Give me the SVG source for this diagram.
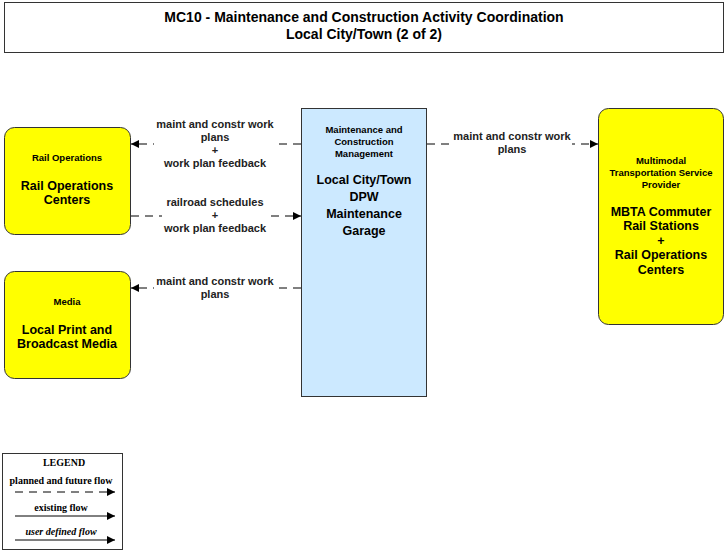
<svg xmlns="http://www.w3.org/2000/svg" width="725" height="552" viewBox="0 0 725 552">
<defs>
<marker id="arr" viewBox="0 0 10 10" refX="10" refY="5" markerWidth="10" markerHeight="8" markerUnits="userSpaceOnUse" orient="auto"><path d="M0,0 L10,5 L0,10 z" fill="#000"/></marker>
<style>
text{font-family:"Liberation Sans",Arial,sans-serif;font-weight:bold;fill:#000;text-anchor:middle}
.t{font-size:14px}
.h{font-size:9.5px}
.m{font-size:12.5px}
.l{font-size:11px;fill:#222}
.node{fill:#FFFF00;stroke:#333;stroke-width:1}
.dash{stroke:#000;stroke-width:1;fill:none;stroke-dasharray:8,6}
.solid{stroke:#000;stroke-width:1;fill:none}
.lg{font-family:"Liberation Serif","Times New Roman",serif;font-size:10px}
</style>
</defs>
<rect width="725" height="552" fill="#fff"/>
<g id="title">
<rect x="4.5" y="2.5" width="719" height="50" fill="#fff" stroke="#333"/>
<text class="t" x="364" y="22">MC10 - Maintenance and Construction Activity Coordination</text>
<text class="t" x="364" y="39">Local City/Town (2 of 2)</text>
</g>
<g id="connectors">
<line class="dash" x1="301" y1="144" x2="131" y2="144" marker-end="url(#arr)"/>
<line class="dash" x1="131" y1="216" x2="301" y2="216" marker-end="url(#arr)"/>
<line class="dash" x1="301" y1="288" x2="131" y2="288" marker-end="url(#arr)"/>
<line class="dash" x1="427" y1="144" x2="598" y2="144" marker-end="url(#arr)"/>
<rect x="154" y="116" width="122" height="52" fill="#fff"/>
<rect x="162" y="195" width="106" height="40" fill="#fff"/>
<rect x="154" y="274" width="122" height="26" fill="#fff"/>
<rect x="452" y="130" width="120" height="26" fill="#fff"/>
<text class="l" x="215" y="128">maint and constr work</text>
<text class="l" x="215" y="141">plans</text>
<text class="l" x="215" y="154">+</text>
<text class="l" x="215" y="167">work plan feedback</text>
<text class="l" x="215" y="206">railroad schedules</text>
<text class="l" x="215" y="219">+</text>
<text class="l" x="215" y="232">work plan feedback</text>
<text class="l" x="215" y="285">maint and constr work</text>
<text class="l" x="215" y="298">plans</text>
<text class="l" x="512" y="140">maint and constr work</text>
<text class="l" x="512" y="153">plans</text>
</g>
<g id="dpw">
<rect x="301.5" y="108.5" width="125" height="288" fill="#CCE9FF" stroke="#333"/>
<text class="h" x="364" y="133">Maintenance and</text>
<text class="h" x="364" y="145">Construction</text>
<text class="h" x="364" y="157">Management</text>
<text class="m" x="364" y="184">Local City/Town</text>
<text class="m" x="364" y="201">DPW</text>
<text class="m" x="364" y="218">Maintenance</text>
<text class="m" x="364" y="235">Garage</text>
</g>
<g id="railops">
<rect class="node" x="4.5" y="127.5" width="126" height="107" rx="10"/>
<text class="h" x="67" y="161">Rail Operations</text>
<text class="m" x="67" y="190">Rail Operations</text>
<text class="m" x="67" y="204">Centers</text>
</g>
<g id="media">
<rect class="node" x="4.5" y="271.5" width="126" height="107" rx="10"/>
<text class="h" x="67" y="305">Media</text>
<text class="m" x="67" y="334">Local Print and</text>
<text class="m" x="67" y="348">Broadcast Media</text>
</g>
<g id="mbta">
<rect class="node" x="598.5" y="108.5" width="125" height="216" rx="10"/>
<text class="h" x="661" y="164">Multimodal</text>
<text class="h" x="661" y="176">Transportation Service</text>
<text class="h" x="661" y="188">Provider</text>
<text class="m" x="661" y="216">MBTA Commuter</text>
<text class="m" x="661" y="230">Rail Stations</text>
<text class="m" x="661" y="245">+</text>
<text class="m" x="661" y="259">Rail Operations</text>
<text class="m" x="661" y="274">Centers</text>
</g>
<g id="legend">
<rect x="2.5" y="453.5" width="120" height="96" fill="#fff" stroke="#333"/>
<text class="lg" x="64" y="466">LEGEND</text>
<text class="lg" x="61" y="484">planned and future flow</text>
<line class="dash" x1="15" y1="492" x2="115" y2="492" stroke-dasharray="3,2" marker-end="url(#arr)"/>
<text class="lg" x="61" y="511">existing flow</text>
<line class="solid" x1="15" y1="516" x2="115" y2="516" marker-end="url(#arr)"/>
<text class="lg" x="61" y="535" font-style="italic">user defined flow</text>
<line class="solid" x1="15" y1="540" x2="115" y2="540" marker-end="url(#arr)"/>
</g>
</svg>
